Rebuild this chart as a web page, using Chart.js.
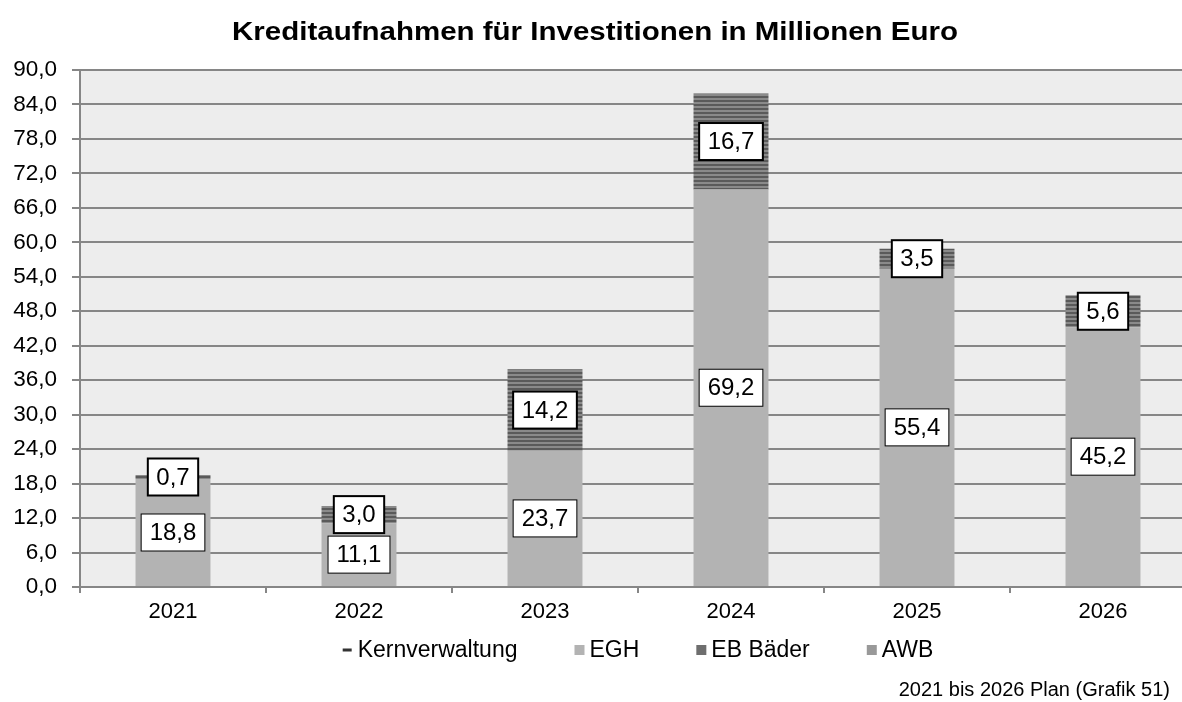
<!DOCTYPE html>
<html lang="de">
<head>
<meta charset="utf-8">
<title>Kreditaufnahmen für Investitionen</title>
<script src="https://cdn.jsdelivr.net/npm/chart.js@4.4.1/dist/chart.umd.min.js"></script>
<style>
  html, body { margin: 0; padding: 0; background: #fff; overflow: hidden; }
  #wrap { position: relative; width: 1200px; height: 702px; }
</style>
</head>
<body>
<div id="wrap"><canvas id="kredite" width="1200" height="702"></canvas></div>
<script>
// Werte in Mio. Euro
const years = ['2021', '2022', '2023', '2024', '2025', '2026'];
const kernverwaltung = [0, 0, 0, 0, 0, 0];
const egh = [18.8, 11.1, 23.7, 69.2, 55.4, 45.2];
const ebBaeder = [0.7, 3.0, 14.2, 16.7, 3.5, 5.6];
const awb = [0, 0, 0, 0, 0, 0];
const yMin = 0, yMax = 90, yStep = 6;

const titleText = 'Kreditaufnahmen für Investitionen in Millionen Euro';
const noteText = '2021 bis 2026 Plan (Grafik 51)';

const FONT = '"Liberation Sans", Arial, sans-serif';
const GRID = '#868686';

const fmt = v => v.toFixed(1).replace('.', ',');

// horizontal stripes for EB Bäder
function stripePattern(ctx) {
  const c = document.createElement('canvas');
  c.width = 4; c.height = 4;
  const g = c.getContext('2d');
  g.fillStyle = '#8a8a8a';
  g.fillRect(0, 0, 4, 4);
  g.fillStyle = '#5a5a5a';
  g.fillRect(0, 0, 4, 2);
  return ctx.createPattern(c, 'repeat');
}

const canvas = document.getElementById('kredite');
const ctx = canvas.getContext('2d');
const ebFill = stripePattern(ctx);

// plot background + title, legend, footnote
const decor = {
  id: 'decor',
  beforeDraw(chart) {
    const { ctx, chartArea: a } = chart;
    ctx.save();
    ctx.fillStyle = '#ededed';
    ctx.fillRect(a.left, a.top, a.right - a.left, a.bottom - a.top);
    ctx.restore();
  },
  afterDraw(chart) {
    const { ctx, chartArea: a } = chart;
    ctx.save();
    ctx.fillStyle = '#000';
    ctx.textBaseline = 'middle';

    // title, stretched a bit wider like the Excel original
    ctx.font = 'bold 26px ' + FONT;
    ctx.textAlign = 'center';
    const tw = ctx.measureText(titleText).width;
    const sx = 726 / tw;
    ctx.save();
    ctx.translate(595, 33);
    ctx.scale(sx, 1);
    ctx.fillText(titleText, 0, 0);
    ctx.restore();

    // legend
    ctx.font = '23px ' + FONT;
    ctx.textAlign = 'left';
    const box = 10, gapText = 5, gapItem = 57;
    const items = chart.data.datasets.map(ds => ({
      ds, w: box + gapText + ctx.measureText(ds.label).width
    }));
    const total = items.reduce((s, it) => s + it.w, 0) + gapItem * (items.length - 1);
    let x = (a.left + a.right) / 2 - total / 2;
    const y = 650;
    items.forEach(it => {
      if (it.ds.legendShape === 'line') {
        ctx.fillStyle = '#333';
        ctx.fillRect(x, y - 1.5, 9, 3);
      } else {
        ctx.fillStyle = it.ds.legendColor || it.ds.backgroundColor;
        ctx.fillRect(x, y - box / 2, box, box);
      }
      ctx.fillStyle = '#000';
      ctx.fillText(it.ds.label, x + box + gapText, y + 1);
      x += it.w + gapItem;
    });

    ctx.font = '20px ' + FONT;
    ctx.textAlign = 'right';
    ctx.fillText(noteText, 1170, 690);
    ctx.restore();
  }
};

// boxed value labels in the middle of each segment
const boxLabels = {
  id: 'boxLabels',
  afterDatasetsDraw(chart) {
    const { ctx } = chart;
    ctx.save();
    ctx.font = '24px ' + FONT;
    ctx.textAlign = 'center';
    ctx.textBaseline = 'middle';
    chart.data.datasets.forEach((ds, di) => {
      if (!ds.boxBorder) return;
      const meta = chart.getDatasetMeta(di);
      meta.data.forEach((el, i) => {
        const v = ds.data[i];
        if (!v) return;
        const txt = fmt(v);
        const w = ctx.measureText(txt).width + 17;
        const h = 37;
        const cx = el.x, cy = (el.y + el.base) / 2;
        ctx.fillStyle = '#fff';
        ctx.fillRect(cx - w / 2, cy - h / 2, w, h);
        ctx.lineWidth = ds.boxBorder;
        ctx.strokeStyle = '#000';
        ctx.strokeRect(cx - w / 2, cy - h / 2, w, h);
        ctx.fillStyle = '#000';
        ctx.fillText(txt, cx, cy + 1);
      });
    });
    ctx.restore();
  }
};

Chart.defaults.font.family = FONT;
Chart.defaults.color = '#000';

new Chart(ctx, {
  type: 'bar',
  data: {
    labels: years,
    datasets: [
      { label: 'Kernverwaltung', data: kernverwaltung, backgroundColor: '#333', legendShape: 'line' },
      { label: 'EGH', data: egh, backgroundColor: '#b3b3b3', boxBorder: 1 },
      { label: 'EB Bäder', data: ebBaeder, backgroundColor: ebFill, legendColor: '#6e6e6e', boxBorder: 2 },
      { label: 'AWB', data: awb, backgroundColor: '#999999' }
    ]
  },
  options: {
    responsive: false,
    animation: false,
    devicePixelRatio: 1,
    barPercentage: 0.403,
    categoryPercentage: 1,
    layout: { padding: { top: 70, right: 4, bottom: 0, left: 0 } },
    plugins: {
      legend: { display: false },
      title: { display: false },
      tooltip: { enabled: false }
    },
    scales: {
      x: {
        stacked: true,
        afterFit(scale) { scale.height = 115; },
        grid: {
          offset: true,
          drawOnChartArea: false,
          drawTicks: true,
          tickLength: 6,
          color: GRID,
          lineWidth: 2
        },
        border: { color: GRID, width: 2 },
        ticks: { font: { size: 22 }, padding: 6, color: '#000' }
      },
      y: {
        stacked: true,
        min: yMin,
        max: yMax,
        afterFit(scale) { scale.width = 80; },
        grid: { color: GRID, lineWidth: 2, tickLength: 8 },
        border: { color: GRID, width: 2 },
        ticks: {
          stepSize: yStep,
          autoSkip: false,
          padding: 15,
          font: { size: 22.5 },
          color: '#000',
          callback: v => fmt(v)
        }
      }
    }
  },
  plugins: [decor, boxLabels]
});
</script>
</body>
</html>
